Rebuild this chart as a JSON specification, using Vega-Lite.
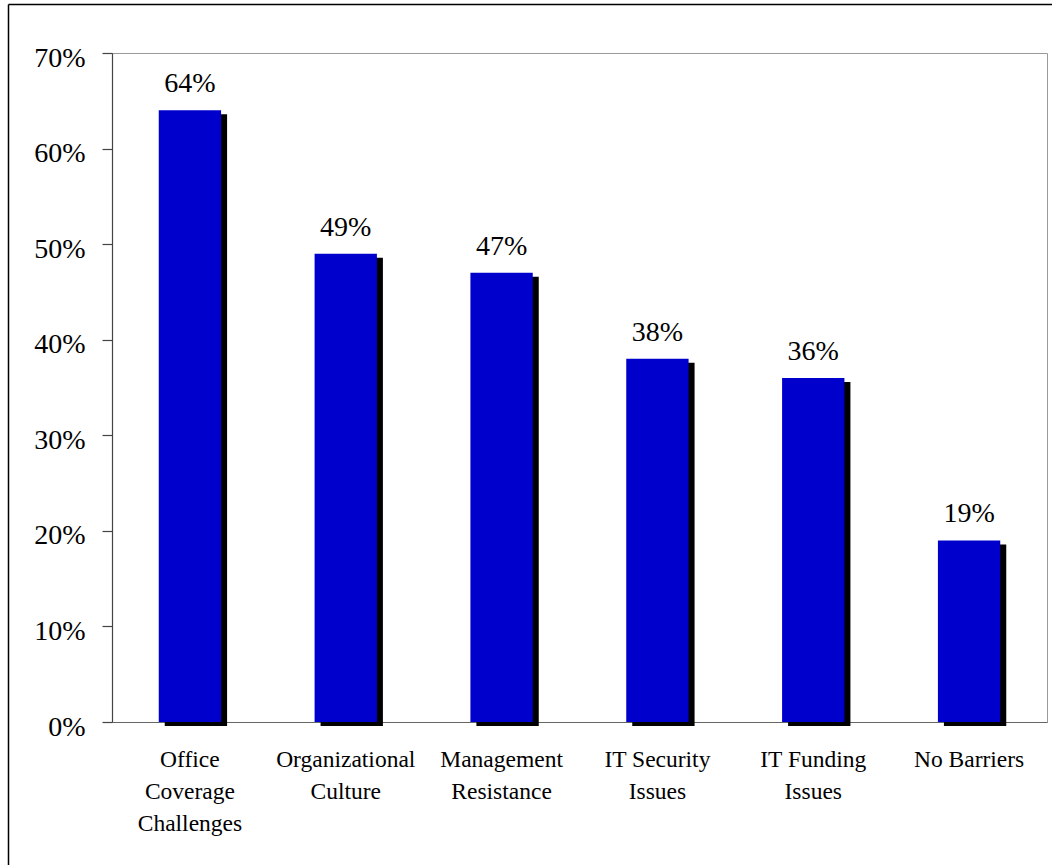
{
  "$schema": "https://vega.github.io/schema/vega-lite/v6.json",
  "width": 935,
  "height": 669,
  "autosize": "none",
  "padding": {"left": 112, "top": 53, "right": 5, "bottom": 143},
  "background": "white",
  "config": {
    "view": {"stroke": "#999999", "strokeWidth": 1},
    "font": "Liberation Serif, Times New Roman, serif"
  },
  "resolve": {"scale": {"x": "independent", "y": "independent"}, "axis": {"x": "independent", "y": "independent"}},
  "layer": [
    {
      "description": "Outer frame of the figure, drawn as the domain lines of two unlabeled axes",
      "data": {"values": [{"a": 0}]},
      "mark": {"type": "point", "opacity": 0},
      "encoding": {
        "x": {
          "field": "a", "type": "quantitative",
          "scale": {"domain": [0, 1], "range": [-104, 940], "nice": false, "zero": false},
          "axis": {"orient": "top", "offset": 49, "domain": true, "domainColor": "#000000", "domainWidth": 1.5, "ticks": false, "labels": false, "grid": false, "title": null}
        },
        "y": {
          "field": "a", "type": "quantitative",
          "scale": {"domain": [0, 1], "range": [812, -49], "nice": false, "zero": false},
          "axis": {"orient": "left", "offset": 104, "domain": true, "domainColor": "#000000", "domainWidth": 1.5, "ticks": false, "labels": false, "grid": false, "title": null}
        }
      }
    },
    {
      "data": {
        "values": [
          {"barrier": "Office Coverage Challenges", "share": 0.64},
          {"barrier": "Organizational Culture", "share": 0.49},
          {"barrier": "Management Resistance", "share": 0.47},
          {"barrier": "IT Security Issues", "share": 0.38},
          {"barrier": "IT Funding Issues", "share": 0.36},
          {"barrier": "No Barriers", "share": 0.19}
        ]
      },
      "encoding": {
        "x": {
          "field": "barrier", "type": "nominal", "sort": null,
          "scale": {"paddingInner": 0, "paddingOuter": 0},
          "axis": {
            "orient": "bottom", "title": null, "ticks": false, "grid": false,
            "domainColor": "#666666", "domainWidth": 1.2,
            "labelAngle": 0, "labelFont": "Liberation Serif, Times New Roman, serif", "labelFontSize": 23.5,
            "labelColor": "#000000", "labelBaseline": "top", "labelPadding": 25,
            "labelLineHeight": 32,
            "labelExpr": "datum.value == 'No Barriers' ? datum.value : indexof(datum.value, 'IT ') == 0 ? [slice(datum.value, 0, lastindexof(datum.value, ' ')), slice(datum.value, lastindexof(datum.value, ' ') + 1)] : split(datum.value, ' ')"
          }
        },
        "y": {
          "field": "share", "type": "quantitative",
          "scale": {"domain": [0, 0.7], "nice": false},
          "axis": {
            "orient": "left", "title": null, "grid": false,
            "values": [0, 0.1, 0.2, 0.3, 0.4, 0.5, 0.6, 0.7], "format": ".0%",
            "domainColor": "#444444", "domainWidth": 1.2,
            "tickColor": "#444444", "tickSize": 10, "tickWidth": 1.2,
            "labelFont": "Liberation Serif, Times New Roman, serif", "labelFontSize": 28, "labelColor": "#000000",
            "labelPadding": 17, "labelOffset": 5
          }
        }
      },
      "layer": [
        {
          "mark": {"type": "bar", "color": "#000000", "width": {"band": 0.4}, "xOffset": 6, "yOffset": 4, "y2Offset": 2}
        },
        {
          "mark": {"type": "bar", "color": "#0000CC", "width": {"band": 0.4}}
        },
        {
          "mark": {"type": "text", "font": "Liberation Serif, Times New Roman, serif", "fontSize": 28, "color": "#000000", "baseline": "alphabetic", "dy": -18},
          "encoding": {"text": {"field": "share", "type": "quantitative", "format": ".0%"}}
        }
      ]
    }
  ]
}
